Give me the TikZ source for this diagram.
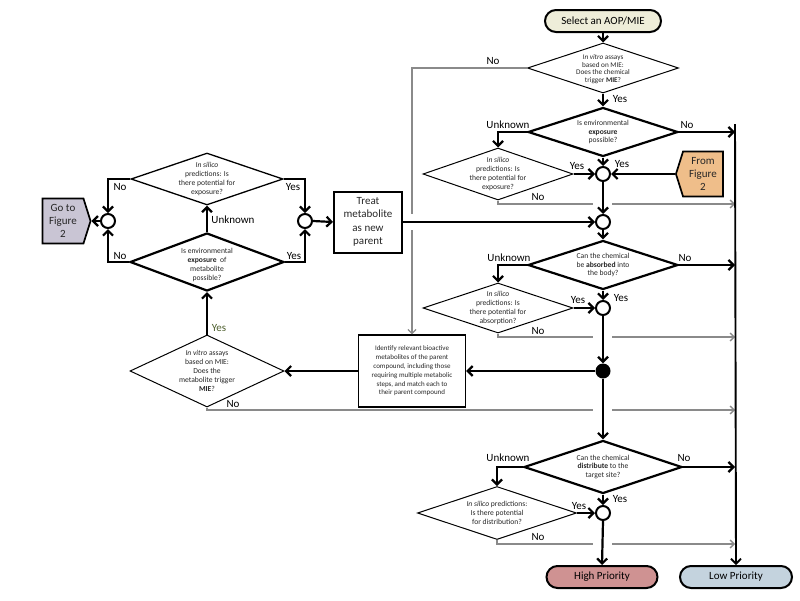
\documentclass[tikz,border=0pt]{standalone}
\usepackage{fontspec}
\setmainfont{Carlito}
\usetikzlibrary{arrows.meta,shapes.geometric,shapes.symbols}
\definecolor{selfill}{HTML}{EEEDD9}
\definecolor{fromfill}{HTML}{EFBE8A}
\definecolor{gofill}{HTML}{C9C5D4}
\definecolor{highfill}{HTML}{CF9292}
\definecolor{lowfill}{HTML}{C4D3DE}
\definecolor{glc}{HTML}{8A8A8A}
\definecolor{olive}{HTML}{4E5F2E}
\begin{document}
\begin{tikzpicture}[x=1pt,y=-1pt,
  arr/.style={line width=2.2pt,-{Straight Barb[length=5pt,width=10pt]}},
  gline/.style={line width=1.3pt,draw=glc},
  garr/.style={line width=1.3pt,draw=glc,-{Straight Barb[length=4pt,width=8pt]}},
  dia/.style={diamond,draw,inner sep=0pt,line width=1pt},
  diat/.style={dia,line width=2.2pt},
  dtext/.style={align=center,font=\fontsize{7.6}{8.8}\selectfont,text=black!85},
  lbl/.style={font=\fontsize{11}{12}\selectfont,inner sep=0pt},
  junc/.style={circle,draw,line width=2pt,fill=white,minimum size=14pt,inner sep=0pt},
  jdot/.style={circle,fill=black,minimum size=15pt,inner sep=0pt},
  term/.style={draw,line width=2pt,rounded corners=11pt,minimum width=116pt,minimum height=22pt,inner sep=0pt,font=\fontsize{11}{12}\selectfont},
  sig/.style={signal,draw,line width=1.7pt,signal pointer angle=145,minimum height=45pt,inner sep=1pt,align=center,font=\fontsize{11}{13}\selectfont,text=black!85}
]
\useasboundingbox (0,0) rectangle (800,600);

% main column
\node[term,fill=selfill] (sel) at (603,21) {Select an AOP/MIE};
\node[dia,minimum width=151pt,minimum height=50pt] (d1) at (603,68) {};
\node[dtext,font=\fontsize{7.2}{7.6}\selectfont] (d1t) at (603,69) {\textit{In vitro} assays\\based on MIE:\\Does the chemical\\trigger \textbf{MIE}?};
\node[diat,minimum width=150pt,minimum height=49pt] (d2) at (603,132) {};
\node[dtext] (d2t) at (603,132) {Is environmental\\\textbf{exposure}\\possible?};
\node[dia,minimum width=150pt,minimum height=52pt] (s1) at (498,174) {};
\node[dtext] (s1t) at (498,174) {\textit{In silico}\\predictions: Is\\there potential for\\exposure?};
\node[junc] (c1) at (603,174) {};
\node[sig,signal to=west,signal from=nowhere,fill=fromfill,minimum width=47pt] (fromfig) at (703,174) {From\\Figure\\2};
\node[junc] (c2) at (603,222) {};
\node[draw,line width=2pt,minimum width=68pt,minimum height=61pt,inner sep=1pt,align=center,font=\fontsize{11}{13.3}\selectfont,text=black!85] (treat) at (368,222) {Treat\\metabolite\\as new\\parent};
\node[diat,minimum width=150pt,minimum height=49pt] (d3) at (603,265) {};
\node[dtext] (d3t) at (603,265) {Can the chemical\\be \textbf{absorbed} into\\the body?};
\node[dia,minimum width=150pt,minimum height=50pt] (s2) at (498,308) {};
\node[dtext] (s2t) at (498,308) {\textit{In silico}\\predictions: Is\\there potential for\\absorption?};
\node[junc] (c3) at (603,308) {};
\node[jdot] (dot) at (603,371) {};
\node[draw,line width=1.3pt,minimum width=107pt,minimum height=72pt,inner sep=0pt,align=center,font=\fontsize{7}{8.8}\selectfont,text=black!85] (idb) at (412,371) {Identify relevant bioactive\\metabolites of the parent\\compound, including those\\requiring multiple metabolic\\steps, and match each to\\their parent compound};
\node[diat,minimum width=158pt,minimum height=53pt] (d4) at (603,467) {};
\node[dtext] (d4t) at (603,467) {Can the chemical\\\textbf{distribute} to the\\target site?};
\node[dia,minimum width=159pt,minimum height=53pt] (s3) at (497,513) {};
\node[dtext] (s3t) at (497,513) {\textit{In silico} predictions:\\Is there potential\\for distribution?};
\node[junc] (c4) at (603,513) {};
\node[term,fill=highfill,minimum width=111pt] (high) at (602,577) {High Priority};
\node[term,fill=lowfill,minimum width=112pt] (low) at (736,577) {Low Priority};

% left part
\node[dia,minimum width=154pt,minimum height=72pt] (dl3) at (207,371) {};
\node[dtext] (dl3t) at (207,371) {\textit{In vitro} assays\\based on MIE:\\Does the\\metabolite trigger\\\textbf{MIE}?};
\node[diat,minimum width=154pt,minimum height=58pt] (dl2) at (207,262) {};
\node[dtext] (dl2t) at (207,265) {Is environmental\\\textbf{exposure}\ \ of\\metabolite\\possible?};
\node[dia,line width=1.3pt,minimum width=152pt,minimum height=52pt] (dl1) at (207,179) {};
\node[dtext] (dl1t) at (207,179) {\textit{In silico}\\predictions: Is\\there potential for\\exposure?};
\node[junc] (cl) at (108,221) {};
\node[junc] (cr) at (305,221) {};
\node[sig,signal to=east,signal from=nowhere,fill=gofill,minimum width=48pt] (gofig) at (63,221) {Go to\\Figure\\2};

% free-end coordinates
\coordinate (rtop) at (735,124);
\coordinate (rn2) at (735,132);
\coordinate (rn3) at (735,265);
\coordinate (rn4) at (735,467);
\coordinate (ga) at (412,214);
\coordinate (gb) at (412,230);
\coordinate (g2a) at (593,204); \coordinate (g2b) at (612,204); \coordinate (g2c) at (735,204);
\coordinate (g3a) at (593,337); \coordinate (g3b) at (612,337); \coordinate (g3c) at (735,337);
\coordinate (g4a) at (593,410); \coordinate (g4b) at (612,410); \coordinate (g4c) at (735,410);
\coordinate (g5a) at (593,544); \coordinate (g5b) at (612,544); \coordinate (g5c) at (735,544);

% gray connectors
\draw[gline] (d1.west) -| (ga);
\draw[garr] (gb) -- (idb.north);
\draw[gline] (s1.south) |- (g2a);
\draw[garr] (g2b) -- (g2c);
\draw[gline] (s2.south) |- (g3a);
\draw[garr] (g3b) -- (g3c);
\draw[gline] (dl3.south) |- (g4a);
\draw[garr] (g4b) -- (g4c);
\draw[gline] (s3.south) |- (g5a);
\draw[garr] (g5b) -- (g5c);

% black connectors
\draw[arr,line width=1.9pt] (rtop) -- (low.north);
\draw[arr] (sel.south) -- (d1.north);
\draw[arr] (d1.south) -- (d2.north);
\draw[arr] (d2.east) -- (rn2);
\draw[arr] (d2.west) -| (s1.north);
\draw[arr] (s1.east) -- (c1.west);
\draw[arr] (d2.south) -- (c1.north);
\draw[arr] (fromfig.west) -- (c1.east);
\draw[arr] (c1.south) -- (c2.north);
\draw[arr] (treat.east) -- (c2.west);
\draw[arr] (c2.south) -- (d3.north);
\draw[arr] (d3.east) -- (rn3);
\draw[arr] (d3.west) -| (s2.north);
\draw[arr] (s2.east) -- (c3.west);
\draw[arr] (d3.south) -- (c3.north);
\draw[arr] (c3.south) -- (dot.north);
\draw[arr] (dot.west) -- (idb.east);
\draw[arr] (idb.west) -- (dl3.east);
\draw[arr] (dl3.north) -- (dl2.south);
\draw[arr] (dl2.north) -- (dl1.south);
\draw[arr] (dl1.west) -| (cl.north);
\draw[arr] (dl2.west) -| (cl.south);
\draw[arr] (dl1.east) -| (cr.north);
\draw[arr] (dl2.east) -| (cr.south);
\draw[arr] (cr.east) -- (treat.west);
\draw[arr] (cl.west) -- (gofig.east);
\draw[arr] (dot.south) -- (d4.north);
\draw[arr] (d4.east) -- (rn4);
\draw[arr] (d4.west) -| (s3.north);
\draw[arr] (s3.east) -- (c4.west);
\draw[arr] (d4.south) -- (c4.north);
\draw[arr] (c4.south) -- (high.north);

% labels
\node[lbl] (l1) at (493,61) {No};
\node[lbl] (l2) at (620,99) {Yes};
\node[lbl] (l3) at (508,125) {Unknown};
\node[lbl] (l4) at (687,125) {No};
\node[lbl] (l5) at (577,166) {Yes};
\node[lbl] (l6) at (622,164) {Yes};
\node[lbl] (l7) at (538,197) {No};
\node[lbl] (l8) at (509,258) {Unknown};
\node[lbl] (l9) at (685,258) {No};
\node[lbl] (l10) at (578,300) {Yes};
\node[lbl] (l11) at (621,298) {Yes};
\node[lbl] (l12) at (538,331) {No};
\node[lbl] (l13) at (508,458) {Unknown};
\node[lbl] (l14) at (684,458) {No};
\node[lbl] (l15) at (579,506) {Yes};
\node[lbl] (l16) at (620,499) {Yes};
\node[lbl] (l17) at (538,537) {No};
\node[lbl] (l18) at (120,187) {No};
\node[lbl] (l19) at (293,187) {Yes};
\node[lbl] (l20) at (233,220) {Unknown};
\node[lbl] (l21) at (120,256) {No};
\node[lbl] (l22) at (294,256) {Yes};
\node[lbl,text=olive] (l23) at (219,328) {Yes};
\node[lbl] (l24) at (233,404) {No};
\end{tikzpicture}
\end{document}
